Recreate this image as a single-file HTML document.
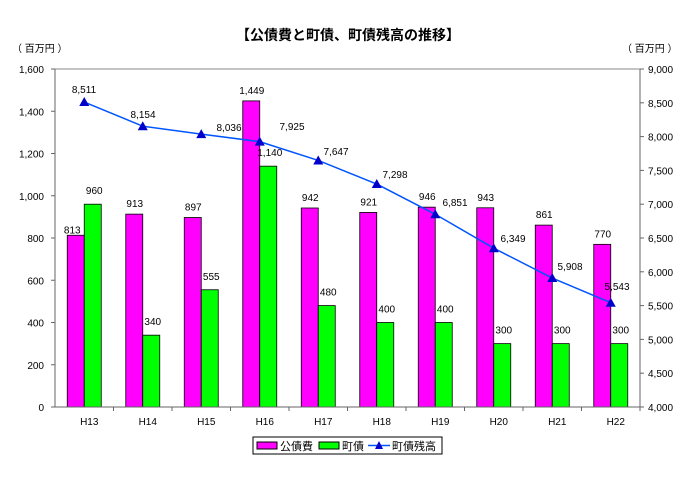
<!DOCTYPE html>
<html><head><meta charset="utf-8"><style>
body{margin:0;background:#fff;}
svg text{font-family:"Liberation Sans","Noto Sans CJK JP",sans-serif;font-size:10px;fill:#000;}
</style></head><body>
<svg id="s" width="700" height="476" xmlns="http://www.w3.org/2000/svg">
<text x="348" y="40" text-anchor="middle" style="font-size:14px;font-weight:bold">【公債費と町債、町債残高の推移】</text>
<text x="12" y="52" style="font-size:10px">（ 百万円 ）</text>
<text x="622" y="52" style="font-size:10px">（ 百万円 ）</text>
<g id="g"></g>
<rect x="253" y="437" width="189" height="17" fill="#fff" stroke="#000"/>
<rect x="257" y="442" width="20" height="7" fill="#f0f" stroke="#000"/>
<text x="280" y="450" style="font-size:11px">公債費</text>
<rect x="319" y="442" width="20" height="7" fill="#0f0" stroke="#000"/>
<text x="342" y="450" style="font-size:11px">町債</text>
<line x1="368" y1="445.5" x2="390" y2="445.5" stroke="#0055ff" stroke-width="1.5"/>
<polygon points="379,441 383,449 375,449" fill="#0000cc"/>
<text x="392" y="450" style="font-size:11px">町債残高</text>
</svg>
<script>
var g=document.getElementById('g'),h='';
var L=55,R=640,B=407,T=69,cw=58.5;
function yl(v){return B-v*338/1600;}
function yr(v){return B-(v-4000)*338/5000;}
h+='<line x1="'+L+'" y1="'+T+'" x2="'+L+'" y2="'+B+'" stroke="#666"/>';
h+='<line x1="'+R+'" y1="'+T+'" x2="'+R+'" y2="'+B+'" stroke="#666"/>';
h+='<line x1="'+L+'" y1="'+T+'" x2="'+R+'" y2="'+T+'" stroke="#888"/>';
for(var i=0;i<=8;i++){var v=i*200,y=yl(v);h+='<line x1="51" y1="'+y+'" x2="55" y2="'+y+'" stroke="#666"/>';
h+='<text x="44" y="'+(y+4)+'" text-anchor="end">'+v.toLocaleString('en-US')+'</text>';}
for(var i=0;i<=10;i++){var v=4000+i*500,y=yr(v);h+='<line x1="640" y1="'+y+'" x2="644" y2="'+y+'" stroke="#666"/>';
h+='<text x="648" y="'+(y+4)+'">'+v.toLocaleString('en-US')+'</text>';}
var a=[813,913,897,1449,942,921,946,943,861,770],b=[960,340,555,1140,480,400,400,300,300,300],c=[8511,8154,8036,7925,7647,7298,6851,6349,5908,5543];
var cl=[[84,93],[143,118],[229,131],[292,130],[336,155],[395,178],[455,206],[513,242],[570,270],[617,290]];
var pts=[];
for(var i=0;i<10;i++){var cx=L+cw*(i+0.5);
h+='<line x1="'+(L+cw*(i+1))+'" y1="407" x2="'+(L+cw*(i+1))+'" y2="411" stroke="#666"/>';
var ya=yl(a[i]),yb=yl(b[i]);
h+='<rect x="'+(cx-17)+'" y="'+ya+'" width="17" height="'+(B-ya)+'" fill="#f0f" stroke="#000" stroke-width="0.8"/>';
h+='<rect x="'+cx+'" y="'+yb+'" width="17" height="'+(B-yb)+'" fill="#0f0" stroke="#000" stroke-width="0.8"/>';
var ax=i==0?cx-12:cx-8,ay=i==0?ya-2:ya-7;
h+='<text x="'+ax+'" y="'+ay+'" text-anchor="middle">'+a[i].toLocaleString('en-US')+'</text>';
h+='<text x="'+(cx+10)+'" y="'+(yb-10)+'" text-anchor="middle">'+b[i].toLocaleString('en-US')+'</text>';
h+='<text x="'+(cx+5)+'" y="425" text-anchor="middle">H'+(13+i)+'</text>';
pts.push(cx+','+yr(c[i]));
h+='<text x="'+cl[i][0]+'" y="'+cl[i][1]+'" text-anchor="middle">'+c[i].toLocaleString('en-US')+'</text>';}
h+='<line x1="'+L+'" y1="'+B+'" x2="'+R+'" y2="'+B+'" stroke="#666"/>';
h+='<polyline points="'+pts.join(' ')+'" fill="none" stroke="#0055ff" stroke-width="1.5"/>';
for(var i=0;i<10;i++){var p=pts[i].split(','),x=+p[0],y=+p[1];
h+='<polygon points="'+x+','+(y-5)+' '+(x+5)+','+(y+4)+' '+(x-5)+','+(y+4)+'" fill="#0000cc"/>';}
g.innerHTML=h;
</script>
</body></html>
